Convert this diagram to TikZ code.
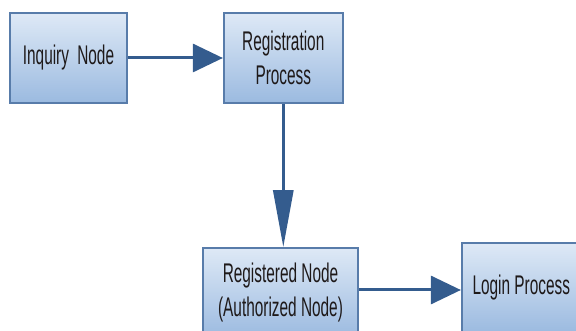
\documentclass[tikz,border=0pt]{standalone}
\usepackage{fontspec}
\setmainfont{Liberation Sans}
\newfontfamily\narrowsans[FakeStretch=0.57]{Liberation Sans}
\usepackage{xcolor}
\definecolor{flowFillTop}{RGB}{222,233,246}
\definecolor{flowFillBot}{RGB}{155,186,224}
\definecolor{flowDraw}{RGB}{88,124,170}
\definecolor{flowArrow}{RGB}{52,92,142}
\definecolor{flowText}{RGB}{30,25,25}
\usetikzlibrary{arrows.meta,positioning}

\begin{document}
\begin{tikzpicture}[
    x=1pt, y=-1pt,
    flowbox/.style={draw=flowDraw, line width=1.8pt, top color=flowFillTop,
      bottom color=flowFillBot, align=center, inner sep=2pt,
      minimum height=90pt, text=flowText,
      font=\narrowsans\fontsize{27}{34}\selectfont},
    arrow/.style={-{Triangle[length=30pt, width=28pt]}, line width=3pt, draw=flowArrow},
    downarrow/.style={arrow, -{Triangle[length=57pt, width=20pt]}},
    node distance=95pt and 95pt
  ]
    \useasboundingbox (0,0) rectangle (576,331);

    \node[flowbox, minimum width=117pt] (inquiry) at (68.5,58) {Inquiry\hspace{4pt} Node};
    \node[flowbox, minimum width=119pt, right=95pt of inquiry] (registration) {Registration\\Process};
    \node[flowbox, minimum width=155pt] (registered) at (280.5,293) {Registered Node\\(Authorized Node)};
    \node[flowbox, minimum width=119pt, right=102pt of registered.east, anchor=west,
      yshift=5pt] (login) {Login Process};

    \draw[arrow] (inquiry) -- (registration);
    \draw[downarrow] (registration.south) -- (registration.south |- registered.north);
    \draw[arrow] ([yshift=3pt]registered.east) -- ([yshift=3pt]registered.east -| login.west);
  \end{tikzpicture}
\end{document}
